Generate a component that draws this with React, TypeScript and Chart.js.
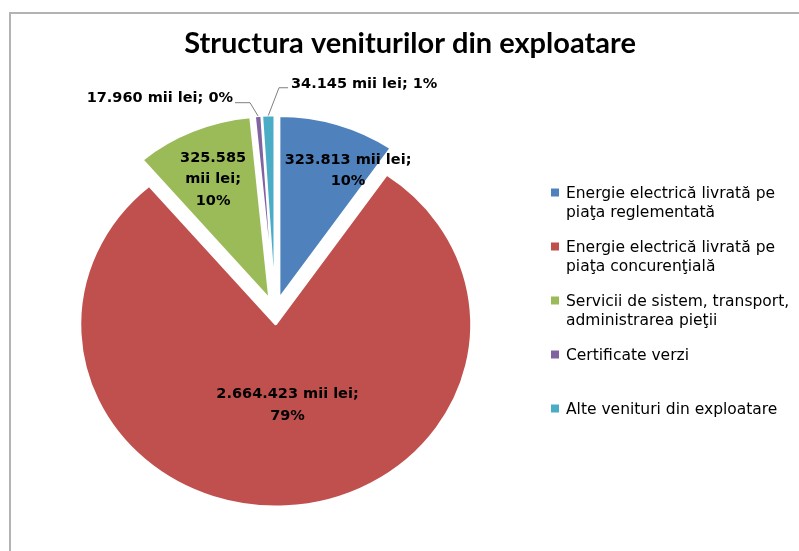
import React, { useEffect, useRef } from "react";
import { Chart, registerables } from "chart.js";

Chart.register(...registerables);

const title = "Structura veniturilor din exploatare";
const categories: string[][] = [
  ["Energie electrică livrată pe", "piaţa reglementată"],
  ["Energie electrică livrată pe", "piaţa concurenţială"],
  ["Servicii de sistem, transport,", "administrarea pieţii"],
  ["Certificate verzi"],
  ["Alte venituri din exploatare"],
];
const values = [323813, 2664423, 325585, 17960, 34145];
const valueLabels = ["323.813", "2.664.423", "325.585", "17.960", "34.145"];
const percentLabels = ["10%", "79%", "10%", "0%", "1%"];
const unit = "mii lei";
const colors = ["#4F81BD", "#C0504D", "#9BBB59", "#8064A2", "#4BACC6"];

// ---- style ----
const EXPLODE_PX = 14; // slice explosion in px
const RADIUS = 188;
const SX = 195.5 / 188; // pie is drawn slightly wider than tall
const SY = 182 / 188;
const TITLE_FONT = "bold 29px Lato, sans-serif";
const LABEL_FONT = "bold 14.5px 'DejaVu Sans', sans-serif";
const LEGEND_FONT = "15.5px 'DejaVu Sans', sans-serif";

// label placement: angle in degrees clockwise from top, distance in px from pie centre
const labelLayout = [
  { kind: "in", angle: 27.5, dist: 158.2, wrap: false, h: 0 },
  { kind: "in", angle: 172.4, dist: 94.8, wrap: false, h: 0 },
  { kind: "in", angle: 334.8, dist: 145.4, wrap: true, h: 0 },
  { kind: "out", angle: -6.84, dist: 209.8, wrap: false, h: -15 },
  { kind: "out", angle: 1.03, dist: 223.3, wrap: false, h: 9 },
];

// draws the pie's own arc elements, each pushed out along its mid angle, on a slightly elliptic frame
const explodePlugin = {
  id: "explode",
  beforeDatasetDraw(chart: any, args: any) {
    const ctx = chart.ctx as CanvasRenderingContext2D;
    const meta = args.meta;
    const a0 = meta.data[0];
    ctx.save();
    ctx.translate(a0.x, a0.y);
    ctx.scale(SX, SY);
    ctx.translate(-a0.x, -a0.y);
    meta.data.forEach((arc: any) => {
      const mid = (arc.startAngle + arc.endAngle) / 2;
      ctx.save();
      ctx.translate(Math.cos(mid) * EXPLODE_PX, Math.sin(mid) * EXPLODE_PX);
      arc.draw(ctx);
      ctx.restore();
    });
    ctx.restore();
    return false;
  },
};

const overlayPlugin = {
  id: "overlay",
  afterDraw(chart: any) {
    const ctx = chart.ctx as CanvasRenderingContext2D;
    const meta = chart.getDatasetMeta(0);
    ctx.save();
    // title
    ctx.fillStyle = "#000";
    ctx.font = TITLE_FONT;
    ctx.textAlign = "center";
    ctx.textBaseline = "alphabetic";
    ctx.fillText(title, 410, 53);

    // data labels
    meta.data.forEach((arc: any, i: number) => {
      const L = labelLayout[i];
      const cx = arc.x;
      const cy = arc.y;
      const a = ((L.angle - 90) * Math.PI) / 180;
      const px = cx + Math.cos(a) * L.dist;
      const py = cy + Math.sin(a) * L.dist;
      ctx.font = LABEL_FONT;
      ctx.fillStyle = "#000";
      if (L.kind === "in") {
        const lines = L.wrap
          ? [valueLabels[i], unit + ";", percentLabels[i]]
          : [`${valueLabels[i]} ${unit};`, percentLabels[i]];
        const lh = 21.7;
        ctx.textAlign = "center";
        ctx.textBaseline = "middle";
        const y0 = py - ((lines.length - 1) * lh) / 2;
        lines.forEach((t, k) => ctx.fillText(t, px, y0 + k * lh));
      } else {
        const mid = (arc.startAngle + arc.endAngle) / 2;
        const rr = arc.outerRadius + EXPLODE_PX;
        const ex = cx + Math.cos(mid) * rr * SX;
        const ey = cy + Math.sin(mid) * rr * SY;
        ctx.strokeStyle = "#7f7f7f";
        ctx.lineWidth = 1;
        ctx.beginPath();
        ctx.moveTo(ex, ey);
        ctx.lineTo(px, py);
        ctx.lineTo(px + L.h, py);
        ctx.stroke();
        const text = `${valueLabels[i]} ${unit}; ${percentLabels[i]}`;
        ctx.textBaseline = "alphabetic";
        if (L.h < 0) {
          ctx.textAlign = "right";
          ctx.fillText(text, px + L.h - 2, py - 0.5);
        } else {
          ctx.textAlign = "left";
          ctx.fillText(text, px + L.h + 3, py);
        }
      }
    });

    // legend
    const lx = 551;
    const tx = 566;
    const firstBase = 197.5;
    const step = 54;
    const lh = 19;
    ctx.font = LEGEND_FONT;
    ctx.textAlign = "left";
    ctx.textBaseline = "alphabetic";
    categories.forEach((lines, i) => {
      const base = firstBase + i * step;
      ctx.fillStyle = colors[i];
      ctx.fillRect(lx, base - 9, 8, 8);
      ctx.fillStyle = "#000";
      lines.forEach((t, k) => ctx.fillText(t, tx, base + k * lh));
    });
    ctx.restore();
  },
};

export default function App() {
  const ref = useRef<HTMLCanvasElement | null>(null);
  useEffect(() => {
    if (!ref.current) return;
    const chart = new Chart(ref.current, {
      type: "pie",
      data: {
        labels: categories.map((c) => c.join(" ")),
        datasets: [
          {
            data: values,
            backgroundColor: colors,
            borderColor: "#ffffff",
            borderWidth: 2,
            radius: RADIUS,
          } as any,
        ],
      },
      options: {
        responsive: false,
        animation: false,
        radius: RADIUS,
        layout: { padding: { left: 0, right: 249, top: 71, bottom: 0 } },
        plugins: {
          legend: { display: false },
          title: { display: false },
          tooltip: { enabled: false },
        },
      } as any,
      plugins: [explodePlugin, overlayPlugin],
    });
    return () => chart.destroy();
  }, []);
  return (
    <div
      style={{
        position: "absolute",
        left: 0,
        top: 0,
        width: 799,
        height: 551,
        overflow: "hidden",
        background: "#fff",
      }}
    >
      <div
        style={{
          position: "absolute",
          left: 9,
          top: 12,
          width: 900,
          height: 700,
          border: "2px solid #b3b3b3",
        }}
      />
      <canvas
        ref={ref}
        width={799}
        height={551}
        style={{ position: "absolute", left: 0, top: 0 }}
      />
    </div>
  );
}
